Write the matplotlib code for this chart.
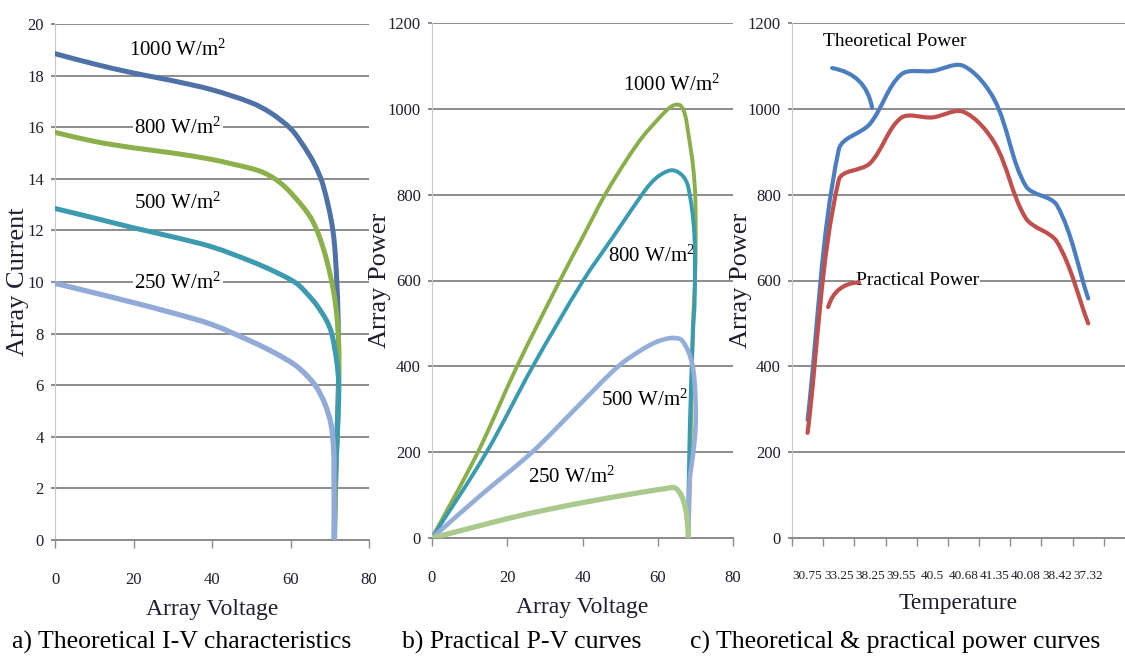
import numpy as np
import matplotlib.pyplot as plt
from matplotlib.path import Path
from matplotlib.patches import PathPatch

# %% veriler

# a) teorik I-V egrileri (gerilim, akim)
v1000 = [0, 10, 20, 30, 40, 50, 55, 60, 63, 66, 68.3, 70.8, 71.8, 72.2, 72.2, 71.8, 71.4, 71.2]
i1000 = [18.85, 18.45, 18.1, 17.8, 17.45, 16.95, 16.55, 15.95, 15.35, 14.6, 13.75, 12.0, 10.0, 8.0, 6.0, 4.0, 2.0, 0]
v800 = [0, 10, 20, 30, 40, 45, 50, 53, 56, 58.5, 61, 63.5, 65.5, 67.5, 69.3, 70.9, 71.8, 72.3, 72.3, 71.9, 71.5, 71.2]
i800 = [15.8, 15.45, 15.2, 15.0, 14.75, 14.58, 14.4, 14.25, 14.0, 13.7, 13.3, 12.85, 12.4, 11.7, 10.8, 9.7, 8.7, 7.5, 6.0, 4.0, 2.0, 0]
v500 = [0, 10, 20, 30, 40, 50, 56, 61.5, 64.5, 66.7, 69.2, 70.5, 71.7, 72.3, 71.9, 71.3, 71.1]
i500 = [12.85, 12.48, 12.1, 11.75, 11.36, 10.8, 10.4, 9.95, 9.5, 9.1, 8.5, 8.0, 7.0, 6.0, 4.0, 2.0, 0]
v250 = [0, 10, 20, 30, 40, 50, 56, 61, 64, 66.5, 68.7, 70.3, 71.0, 71.1, 71.2]
i250 = [9.95, 9.58, 9.2, 8.8, 8.35, 7.7, 7.25, 6.8, 6.4, 5.95, 5.3, 4.5, 3.5, 2.0, 0]

# b) pratik P-V egrileri (gerilim, guc)
pv1000_v = [0, 12.2, 22.6, 34, 40, 46, 52, 56, 60, 62.8, 64.5, 66, 67.2, 68.1, 69.4, 70.0, 70.0, 69.3, 68.9, 68.5, 68.2]
pv1000_p = [0, 200, 400, 600, 700, 800, 885, 935, 975, 1000, 1009, 1008, 988, 944, 865, 788, 630, 485, 300, 120, 0]
pv800_v = [0, 14.5, 26.8, 40.2, 48, 55.8, 58, 60.5, 63.8, 66.5, 68.1, 69.7, 69.8, 69.4, 68.5, 68.0]
pv800_p = [0, 200, 400, 600, 700, 800, 825, 845, 857, 845, 818, 710, 550, 485, 252, 0]
pv500_v = [0, 13, 26.6, 38, 49.5, 56, 60, 63.8, 66.5, 69.1, 70.0, 70.0, 69.3, 68.5, 68.1]
pv500_p = [0, 100, 200, 300, 400, 440, 458, 466, 460, 408, 330, 252, 190, 136, 0]
pv250_v = [0, 11.5, 20, 30, 44.7, 52, 57.4, 62, 64.5, 66.2, 67.3, 67.9, 68.1]
pv250_p = [0, 26, 45, 65, 90, 101, 109, 115, 117, 100, 72, 35, 0]

# c) sicakliga gore teorik ve pratik guc
sicaklik = ['30.75', '33.25', '38.25', '39.55', '40.5', '40.68', '41.35', '40.08', '38.42', '37.32']
teorik_guc = [275, 905, 965, 1080, 1088, 1100, 1020, 820, 775, 558]
pratik_guc = [245, 834, 873, 979, 980, 993, 920, 745, 690, 500]

plt.rcParams['font.family'] = ['Liberation Serif', 'DejaVu Serif']
plt.rcParams['mathtext.fontset'] = 'custom'
plt.rcParams['mathtext.rm'] = 'Liberation Serif'
plt.rcParams['mathtext.it'] = 'Liberation Serif'

gri = '#8c8c8c'
yazi = '#1e1e30'


def yumusak_cizgi(ax, x, y, renk, kalinlik):
    # excel'deki "smoothed line" gibi noktalardan gecen bezier egrisi
    # teget hesabi ekran (piksel) uzayinda, kiris uzunluguna gore
    veri = np.column_stack([np.asarray(x, float), np.asarray(y, float)])
    p = ax.transData.transform(veri)
    n = len(p)
    d = np.hypot(*np.diff(p, axis=0).T)
    m = np.zeros_like(p)
    m[0] = (p[1] - p[0]) / d[0]
    m[-1] = (p[-1] - p[-2]) / d[-1]
    for i in range(1, n - 1):
        m[i] = (p[i + 1] - p[i - 1]) / (d[i - 1] + d[i])
    verts = [p[0]]
    codes = [Path.MOVETO]
    for i in range(n - 1):
        verts += [p[i] + m[i] * d[i] / 3, p[i + 1] - m[i + 1] * d[i] / 3, p[i + 1]]
        codes += [Path.CURVE4] * 3
    verts = ax.transData.inverted().transform(np.array(verts))
    ax.add_patch(PathPatch(Path(verts, codes), fill=False, edgecolor=renk,
                           lw=kalinlik, capstyle='round', joinstyle='round', zorder=3))


def eksen_ayar(ax, ust, adim):
    ax.set_ylim(0, ust)
    ax.set_yticks(np.arange(0, ust + 1, adim))
    ax.yaxis.grid(True, color=gri, lw=1.4)
    ax.set_axisbelow(True)
    for s in ['top', 'right']:
        ax.spines[s].set_visible(False)
    ax.spines['left'].set_color('#c8c8c8')
    ax.spines['bottom'].set_color(gri)
    ax.spines['bottom'].set_linewidth(1.4)
    ax.tick_params(axis='y', length=3, color=gri, width=1.4, pad=5, labelcolor=yazi, labelsize=12)
    ax.tick_params(axis='x', length=6, color=gri, width=1, pad=17, labelcolor=yazi, labelsize=12)


def etiket(ax, x, y, s, boyut=15):
    # etiket izgarayi kapatir ama egrilerin altinda kalir
    ax.text(x, y, s, ha='center', va='center', fontsize=boyut, color='black', zorder=2.5,
            bbox=dict(facecolor='white', edgecolor='none', pad=1))


fig = plt.figure(figsize=(11.25, 6.57), dpi=100)

# %% a) teorik I-V
ax1 = fig.add_axes([55 / 1125, 1 - 540 / 657, 314 / 1125, 516 / 657])
ax1.set_xlim(0, 80)
ax1.set_xticks([0, 20, 40, 60, 80])
eksen_ayar(ax1, 20, 2)
yumusak_cizgi(ax1, v1000, i1000, '#4e72a8', 3.6)
yumusak_cizgi(ax1, v800, i800, '#8cb04a', 3.6)
yumusak_cizgi(ax1, v500, i500, '#3d9bb0', 3.6)
yumusak_cizgi(ax1, v250, i250, '#92aad8', 3.8)
etiket(ax1, 31.3, 19.0, r'1000 W/m$^{2}$')
etiket(ax1, 31.3, 15.97, r'800 W/m$^{2}$')
etiket(ax1, 31.3, 13.06, r'500 W/m$^{2}$')
etiket(ax1, 31.3, 9.96, r'250 W/m$^{2}$')
ax1.set_xlabel('Array Voltage', fontsize=17, color=yazi, labelpad=8)
ax1.set_ylabel('Array Current', fontsize=19, color=yazi)
ax1.yaxis.set_label_coords(-0.083, 0.5)

# %% b) pratik P-V
ax2 = fig.add_axes([432 / 1125, 1 - 538 / 657, 301 / 1125, 515 / 657])
ax2.set_xlim(0, 80)
ax2.set_xticks([0, 20, 40, 60, 80])
eksen_ayar(ax2, 1200, 200)
yumusak_cizgi(ax2, pv1000_v, pv1000_p, '#8aae4a', 2.8)
yumusak_cizgi(ax2, pv800_v, pv800_p, '#3a9bb0', 2.8)
yumusak_cizgi(ax2, pv500_v, pv500_p, '#94aed9', 3.3)
yumusak_cizgi(ax2, pv250_v, pv250_p, '#aac98c', 3.8)
etiket(ax2, 63.8, 1055, r'1000 W/m$^{2}$')
etiket(ax2, 58.3, 657, r'800 W/m$^{2}$')
etiket(ax2, 56.4, 321, r'500 W/m$^{2}$')
etiket(ax2, 37.0, 142, r'250 W/m$^{2}$')
ax2.set_xlabel('Array Voltage', fontsize=17, color=yazi, labelpad=8)
ax2.set_ylabel('Array Power', fontsize=19, color=yazi)
ax2.yaxis.set_label_coords(-0.135, 0.5)

# %% c) teorik & pratik guc
ax3 = fig.add_axes([792 / 1125, 1 - 538 / 657, 333 / 1125, 515 / 657])
konum = np.arange(len(sicaklik))
ax3.set_xlim(-0.5, 10.18)
ax3.set_xticks(np.arange(-0.5, len(sicaklik)), [''] * (len(sicaklik) + 1))
ax3.set_xticks(konum, sicaklik, minor=True)
eksen_ayar(ax3, 1200, 200)
ax3.tick_params(axis='x', which='minor', length=0, pad=23, labelsize=9.5, labelcolor=yazi)
yumusak_cizgi(ax3, konum, teorik_guc, '#4a7ec0', 3.0)
yumusak_cizgi(ax3, konum, pratik_guc, '#c0504d', 3.0)
etiket(ax3, 2.78, 1156, 'Theoretical Power', 14)
etiket(ax3, 3.52, 601, 'Practical Power', 14)
ax3.annotate('', xy=(2.07, 1002), xytext=(0.79, 1095),
             arrowprops=dict(arrowstyle='-', color='#4a7ec0', lw=3,
                             connectionstyle='arc3,rad=-0.35', shrinkA=0, shrinkB=0))
ax3.annotate('', xy=(1.65, 596), xytext=(0.66, 538),
             arrowprops=dict(arrowstyle='-', color='#c0504d', lw=3,
                             connectionstyle='arc3,rad=-0.35', shrinkA=0, shrinkB=0))
ax3.set_xlabel('Temperature', fontsize=17, color=yazi, labelpad=8)
ax3.set_ylabel('Array Power', fontsize=19, color=yazi)
ax3.yaxis.set_label_coords(-0.12, 0.5)

# %% alt yazilar
fig.text(12 / 1125, 1 - 642 / 657, 'a) Theoretical I-V characteristics', fontsize=18.5, va='center', color='black')
fig.text(402 / 1125, 1 - 642 / 657, 'b) Practical P-V curves', fontsize=18.5, va='center', color='black')
fig.text(690 / 1125, 1 - 642 / 657, 'c) Theoretical & practical power curves', fontsize=18.5, va='center', color='black')

fig.savefig('out.png', dpi=100)
